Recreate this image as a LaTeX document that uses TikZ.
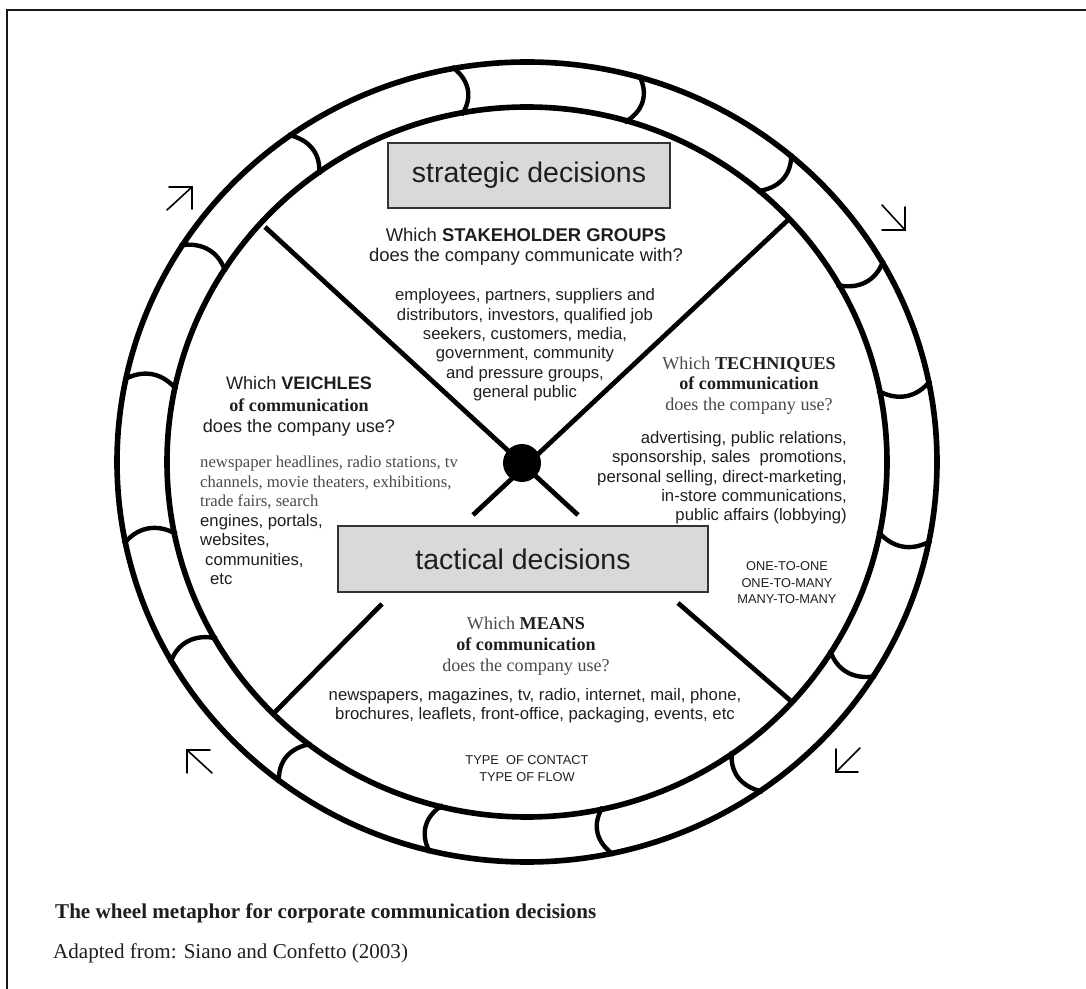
\documentclass[tikz,border=0pt]{standalone}
\usepackage{fontspec}
\setmainfont{Liberation Serif}
\setsansfont{Liberation Sans}
\definecolor{boxgray}{HTML}{D9D9D9}
\definecolor{softink}{HTML}{4A4A4A}
\definecolor{ink}{HTML}{1E1E1E}
\newcommand{\fs}[2]{\fontsize{#1}{#2}\selectfont}

\begin{document}
\begin{tikzpicture}[x=0.02cm, y=-0.02cm,
		rim/.style={line width=3.2pt},
		spoke/.style={line width=2.7pt},
		divider/.style={line width=2.5pt},
		turn/.style={line width=0.9pt, line cap=round, line join=miter},
		decbox/.style={draw=black!80, line width=0.9pt, fill=boxgray, text=ink, font=\sffamily\fs{16.2}{19}, inner sep=0pt},
		head/.style={align=center, text=ink, font=\sffamily\fs{10.5}{11.3}},
		items/.style={align=center, text=ink, font=\sffamily\fs{9.5}{11}},
		flow/.style={align=center, text=ink, font=\sffamily\fs{7.3}{9.4}}]
			\useasboundingbox (0,0) rectangle (1086,989);
			\draw[line width=1.1pt, black!90] (7,989) -- (7,10) -- (1086,10);
			
			\draw[rim] (527,462) ellipse [x radius=410, y radius=400];
			\draw[rim] (527,462) ellipse [x radius=360, y radius=355];
			\begin{scope}[shift={(527,462)}]
				\foreach \a in {11.3,32.2,55.1,77.8,103.6,127,150,168.2,191.8,212.6,234.5,259.5,285.8,309.9,329.9,348.3}
					\draw[divider] (\a:358 and 353) .. controls ({\a+2.2}:375 and 368) and ({\a+2.2}:395 and 386) .. (\a:412 and 402);
			\end{scope}
			
			\draw[spoke] (265,227) -- (578,515);
			\draw[spoke] (788,220) -- (473,515);
			\draw[spoke] (382,604) -- (275,712);
			\draw[spoke] (678,603) -- (792,702);
			\node[circle, fill=black, minimum size=0.76cm, inner sep=0pt] (hub) at (522,463) {};
			
			\node[decbox, minimum width=5.64cm, minimum height=1.3cm] (strategic) at (529,175.5) {strategic decisions};
			\node[decbox, minimum width=7.4cm, minimum height=1.32cm] (tactical) at (523,559) {tactical decisions};
			
			\node[head] (stakeq) at (526,247) {Which \textbf{STAKEHOLDER GROUPS}\\does the company communicate with?};
			\node[items] (stakelist) at (525,345) {employees, partners, suppliers and\\distributors, investors, qualified job\\seekers, customers, media,\\government, community\\and pressure groups,\\general public};
			
			\node[align=center, text=ink, font=\rmfamily\fs{10.3}{12.2}] (veichq) at (299,406.5) {{\sffamily Which \textbf{VEICHLES}}\\\textbf{of communication}\\{\sffamily does the company use?}};
			\node[align=left, anchor=west, text=ink, font=\rmfamily\fs{9.5}{11.05}] (veichlist) at (194,520.5) {\textcolor{softink}{newspaper headlines, radio stations, tv}\\\textcolor{softink}{channels, movie theaters, exhibitions,}\\\textcolor{softink}{trade fairs, search}\\{\sffamily engines, portals,}\\{\sffamily websites,}\\{\sffamily\hspace{0.1cm}communities,}\\{\sffamily\hspace{0.2cm}etc}};
			
			\node[align=center, text=ink, font=\rmfamily\fs{10.3}{11.6}] (techq) at (749,385.5) {\textcolor{softink}{Which} \textbf{TECHNIQUES}\\\textbf{of communication}\\\textcolor{softink}{does the company use?}};
			\node[items, align=right, anchor=east] (techlist) at (853,478) {advertising, public relations,\\sponsorship, sales\ \ promotions,\\personal selling, direct-marketing,\\in-store communications,\\public affairs (lobbying)};
			\node[flow] (contactkind) at (787,583) {ONE-TO-ONE\\ONE-TO-MANY\\MANY-TO-MANY};
			
			\node[align=center, text=ink, font=\rmfamily\fs{10.3}{11.9}] (meansq) at (526,646) {\textcolor{softink}{Which} \textbf{MEANS}\\\textbf{of communication}\\\textcolor{softink}{does the company use?}};
			\node[items] (meanslist) at (535,705.5) {newspapers, magazines, tv, radio, internet, mail, phone,\\brochures, leaflets, front-office, packaging, events, etc};
			\node[flow, font=\sffamily\fs{7.3}{9.6}] (typeq) at (527,768.5) {TYPE\ \ OF CONTACT\\TYPE OF FLOW};
			
			\draw[turn] (167,210) -- (192,187);
			\draw[turn] (169,187) -- (192,187) -- (192,209);
			\draw[turn] (882,205) -- (905,230);
			\draw[turn] (905,207) -- (905,230) -- (882,230);
			\draw[turn] (187,750) -- (212,773);
			\draw[turn] (210,750) -- (187,750) -- (187,773);
			\draw[turn] (836,772) -- (860,748);
			\draw[turn] (858,772) -- (836,772) -- (836,749);
			
			\node[anchor=west, text=ink, font=\rmfamily\bfseries\fs{12}{14}] (caption) at (49,913) {The wheel metaphor for corporate communication decisions};
			\node[anchor=west, text=ink, font=\rmfamily\fs{12}{14}] (source) at (47,953) {Adapted from: Siano and Confetto (2003)};
		\end{tikzpicture}
\end{document}
